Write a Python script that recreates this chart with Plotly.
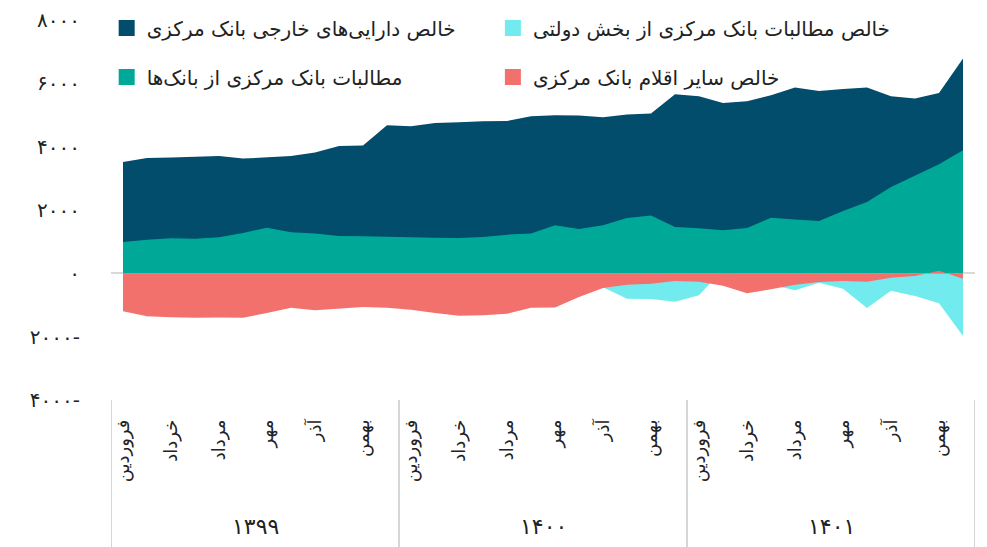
import plotly.graph_objects as go

# ---------------- data ----------------
years = ["۱۳۹۹", "۱۴۰۰", "۱۴۰۱"]
months = ["فروردین", "اردیبهشت", "خرداد", "تیر", "مرداد", "شهریور",
          "مهر", "آبان", "آذر", "دی", "بهمن", "اسفند"]

series_names = [
    "خالص دارایی‌های خارجی بانک مرکزی",
    "خالص مطالبات بانک مرکزی از بخش دولتی",
    "مطالبات بانک مرکزی از بانک‌ها",
    "خالص سایر اقلام بانک مرکزی",
]

foreign_assets = [3517, 3644, 3655, 3676, 3708, 3623, 3655, 3708, 3813, 4024, 4034, 4677,
                  4645, 4750, 4772, 4803, 4810, 4961, 4990, 4982, 4930, 5014, 5046, 5656,
                  5593, 5382, 5435, 5625, 5868, 5761, 5824, 5868, 5593, 5519, 5698, 6784]
claims_government = [-250, -300, -350, -300, -250, -200, -300, -400, -350, -300, -250, -200,
                     -150, -200, -300, -350, -300, -250, -350, -400, -440, -801, -811, -896,
                     -695, 110, -150, -350, -537, -295, -484, -1096, -548, -717, -948, -1981]
claims_banks = [990, 1064, 1106, 1096, 1138, 1275, 1443, 1296, 1254, 1180, 1169, 1148,
                1127, 1127, 1117, 1148, 1222, 1254, 1520, 1401, 1517, 1749, 1823, 1464,
                1422, 1359, 1433, 1754, 1697, 1654, 1970, 2254, 2727, 3097, 3444, 3887]
other_items = [-1195, -1355, -1385, -1401, -1392, -1401, -1254, -1085, -1169, -1125, -1064, -1090,
               -1150, -1250, -1338, -1327, -1280, -1090, -1075, -748, -464, -358, -327, -242,
               -263, -390, -632, -500, -358, -274, -242, -263, -137, -84, 80, -168]

y_tick_vals = [-4000, -2000, 0, 2000, 4000, 6000, 8000]
y_tick_text = ["۴۰۰۰-", "۲۰۰۰-", "۰", "۲۰۰۰", "۴۰۰۰", "۶۰۰۰", "۸۰۰۰"]

colors = ["#024c6c", "#72ebee", "#00a897", "#f2716d"]
# ---------------------------------------

FONT = "DejaVu Sans"
n = len(foreign_assets)
x = list(range(n))
month_labels = [months[i % 12] for i in x]

fig = go.Figure()
values = [foreign_assets, claims_government, claims_banks, other_items]
for name, vals, col in zip(series_names, values, colors):
    fig.add_trace(go.Scatter(
        x=x, y=vals, mode="lines", fill="tozeroy",
        line=dict(width=0, color=col), fillcolor=col,
        name=name, showlegend=False, hoverinfo="skip"))

# legend entries (square icons), one legend per entry in a 2x2 grid
legend_ids = ["legend", "legend2", "legend3", "legend4"]
for name, col, lid in zip(series_names, colors, legend_ids):
    fig.add_trace(go.Scatter(
        x=[None], y=[None], mode="markers",
        marker=dict(symbol="square", size=16, color=col),
        name=name, legend=lid))

# year dividers and labels
for k, yr in enumerate(years):
    fig.add_annotation(x=12 * k + 5.5, y=-0.334, xref="x", yref="paper",
                       yanchor="middle", text=yr, showarrow=False,
                       font=dict(family=FONT, size=22, color="#222"))
for k in range(len(years) + 1):
    fig.add_shape(type="line", x0=12 * k - 0.5, x1=12 * k - 0.5, xref="x",
                  y0=0, y1=-0.45, yref="paper",
                  line=dict(color="#d6d6d6", width=2))

legend_common = dict(orientation="h", xanchor="left", yanchor="middle",
                     font=dict(family=FONT, size=20, color="#222"),
                     bgcolor="rgba(0,0,0,0)", itemclick=False, itemdoubleclick=False)
col_x = [-0.005, 0.442]
row_y = [0.979, 0.85]

fig.update_layout(
    width=987, height=547, autosize=False,
    margin=dict(l=111, r=12, t=20, b=147, autoexpand=False),
    paper_bgcolor="white", plot_bgcolor="white",
    font=dict(family=FONT, color="#222"),
    legend=dict(x=col_x[0], y=row_y[0], **legend_common),
    legend2=dict(x=col_x[1], y=row_y[0], **legend_common),
    legend3=dict(x=col_x[0], y=row_y[1], **legend_common),
    legend4=dict(x=col_x[1], y=row_y[1], **legend_common),
    xaxis=dict(range=[-0.5, n - 0.5], tickvals=x[::2], ticktext=month_labels[::2],
               tickangle=-90, showgrid=False, zeroline=False, showline=False,
               ticks="", ticklabelstandoff=15, automargin=False,
               tickfont=dict(family=FONT, size=18, color="#222")),
    yaxis=dict(range=[-4000, 8000], tickvals=y_tick_vals, ticktext=y_tick_text,
               showgrid=False, zeroline=True, zerolinecolor="#d9d9d9", zerolinewidth=2,
               layer="above traces", ticks="", ticklabelstandoff=30, automargin=False,
               tickfont=dict(family=FONT, size=20, color="#222")),
)

fig.write_html("out.html", include_plotlyjs=True, full_html=True,
               config={"displayModeBar": False},
               post_script="document.body.style.margin='0';")
